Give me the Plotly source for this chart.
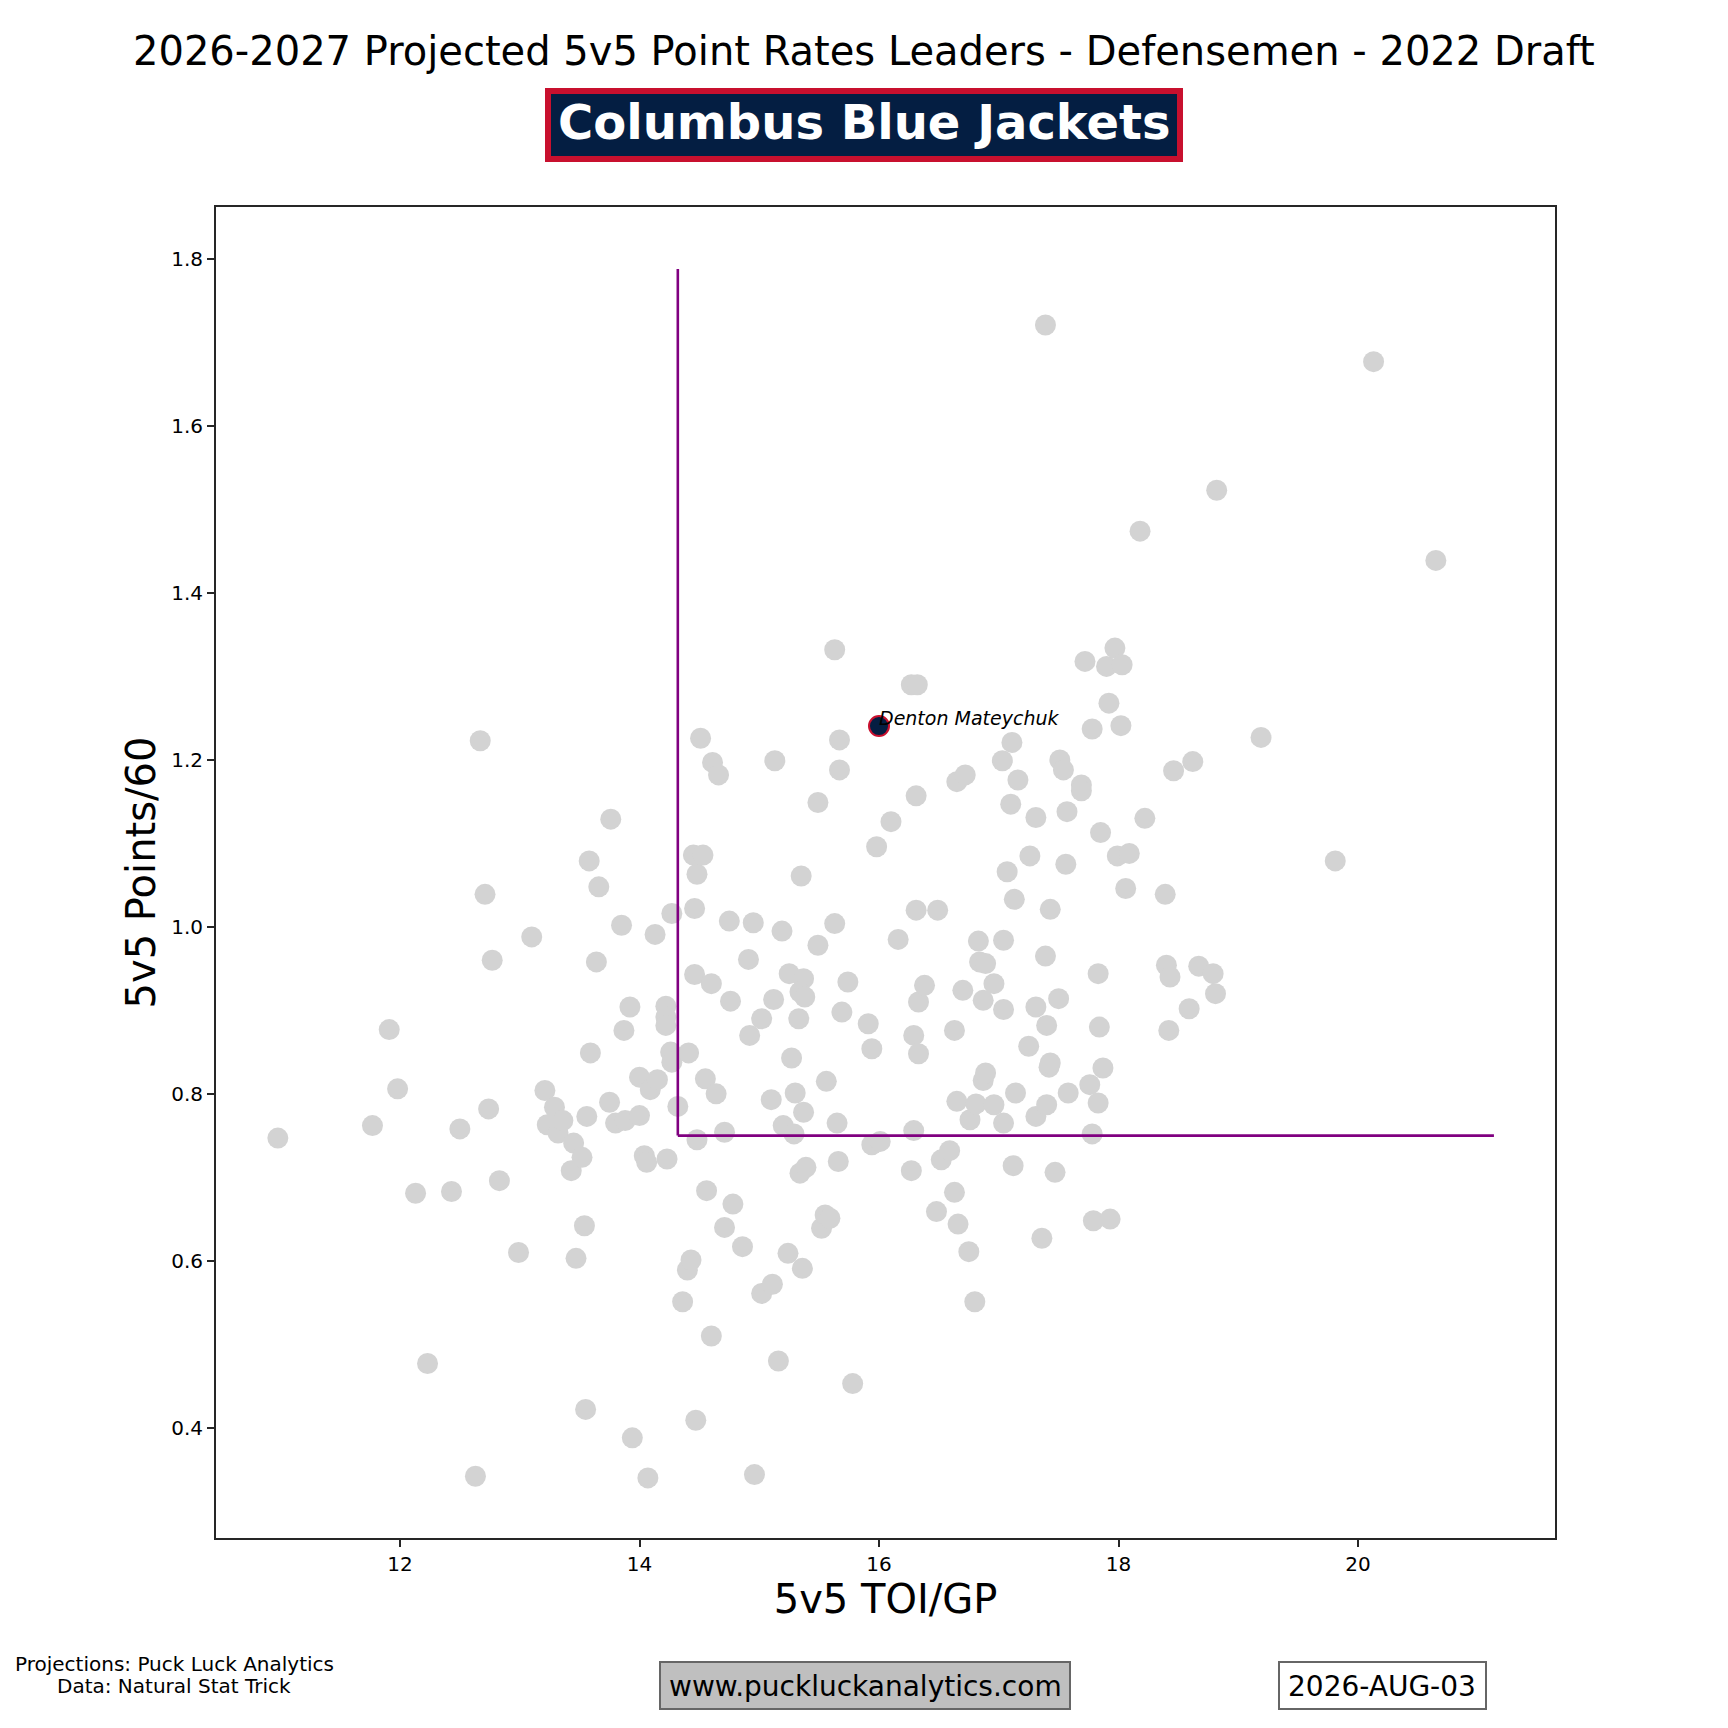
import plotly.graph_objects as go

# projected 5v5 TOI per game and points/60 for the defensemen pool
toi = [10.98, 11.77, 11.91, 11.98, 12.13, 12.23, 12.43, 12.50, 12.63, 12.67,
       12.71, 12.74, 12.77, 12.83, 12.99, 13.10, 13.21, 13.23, 13.29, 13.32,
       13.36, 13.43, 13.45, 13.47, 13.52, 13.54, 13.55, 13.56, 13.58, 13.59,
       13.64, 13.66, 13.75, 13.76, 13.80, 13.85, 13.87, 13.88, 13.92, 13.94,
       14.00, 14.00, 14.04, 14.06, 14.07, 14.09, 14.13, 14.15, 14.22, 14.22,
       14.22, 14.23, 14.26, 14.27, 14.27, 14.32, 14.36, 14.40, 14.41, 14.43,
       14.45, 14.46, 14.46, 14.47, 14.48, 14.48, 14.51, 14.53, 14.55, 14.56,
       14.60, 14.60, 14.61, 14.64, 14.66, 14.71, 14.71, 14.75, 14.76, 14.78,
       14.86, 14.91, 14.92, 14.95, 14.96, 15.02, 15.02, 15.10, 15.11, 15.12,
       15.13, 15.16, 15.19, 15.20, 15.24, 15.25, 15.27, 15.29, 15.30, 15.33,
       15.34, 15.35, 15.36, 15.37, 15.37, 15.34, 15.38, 15.39, 15.49, 15.49,
       15.52, 15.55, 15.56, 15.59, 15.63, 15.63, 15.65, 15.66, 15.67, 15.67,
       15.69, 15.74, 15.78, 15.91, 15.94, 15.94, 15.98, 16.01, 16.10, 16.16,
       16.27, 16.27, 16.29, 16.29, 16.31, 16.32, 16.31, 16.33, 16.33, 16.38,
       16.48, 16.49, 16.52, 16.59, 16.63, 16.63, 16.65, 16.65, 16.66, 16.70,
       16.72, 16.75, 16.76, 16.80, 16.81, 16.83, 16.84, 16.87, 16.87, 16.89,
       16.89, 16.96, 16.96, 17.03, 17.04, 17.04, 17.04, 17.07, 17.10, 17.11,
       17.12, 17.13, 17.14, 17.16, 17.25, 17.26, 17.31, 17.31, 17.31, 17.36,
       17.39, 17.39, 17.40, 17.40, 17.42, 17.43, 17.43, 17.47, 17.50, 17.51,
       17.54, 17.56, 17.57, 17.58, 17.69, 17.69, 17.72, 17.76, 17.78, 17.78,
       17.79, 17.83, 17.83, 17.84, 17.85, 17.87, 17.90, 17.92, 17.93, 17.97,
       17.99, 18.03, 18.02, 18.06, 18.09, 18.18, 18.22, 18.39, 18.40, 18.42,
       18.43, 18.46, 18.59, 18.62, 18.67, 18.79, 18.81, 18.82, 19.19, 19.81,
       20.13, 20.65]
pts60 = [0.747, 0.762, 0.877, 0.806, 0.681, 0.477, 0.683, 0.758, 0.342, 1.223,
         1.039, 0.782, 0.960, 0.696, 0.610, 0.988, 0.804, 0.763, 0.784, 0.753,
         0.768, 0.708, 0.741, 0.603, 0.724, 0.642, 0.422, 0.773, 1.079, 0.849,
         0.958, 1.048, 0.790, 1.129, 0.765, 1.002, 0.876, 0.768, 0.904, 0.388,
         0.774, 0.820, 0.726, 0.718, 0.340, 0.805, 0.991, 0.817, 0.905, 0.892,
         0.882, 0.722, 0.850, 0.838, 1.016, 0.785, 0.551, 0.589, 0.849, 0.601,
         1.086, 0.943, 1.022, 0.409, 1.063, 0.745, 1.226, 1.086, 0.818, 0.684,
         0.510, 0.932, 1.197, 0.800, 1.182, 0.640, 0.754, 1.007, 0.911, 0.668,
         0.617, 0.961, 0.870, 1.005, 0.344, 0.561, 0.890, 0.793, 0.572, 0.913,
         1.199, 0.480, 0.995, 0.762, 0.609, 0.944, 0.843, 0.752, 0.801, 0.890,
         0.705, 1.061, 0.591, 0.938, 0.778, 0.922, 0.916, 0.712, 0.978, 1.149,
         0.639, 0.655, 0.815, 0.651, 1.004, 1.332, 0.765, 0.719, 1.224, 1.188,
         0.898, 0.934, 0.453, 0.884, 0.739, 0.854, 1.096, 0.743, 1.126, 0.985,
         1.290, 0.708, 0.870, 0.756, 1.157, 1.290, 1.020, 0.910, 0.848, 0.930,
         0.659, 1.020, 0.721, 0.732, 0.682, 0.876, 1.174, 0.791, 0.644, 0.924,
         1.182, 0.611, 0.769, 0.551, 0.788, 0.983, 0.958, 0.912, 0.816, 0.825,
         0.956, 0.787, 0.932, 1.199, 0.984, 0.765, 0.901, 1.066, 1.147, 1.221,
         0.714, 1.033, 0.801, 1.176, 0.857, 1.085, 0.904, 1.131, 0.773, 0.627,
         0.965, 1.721, 0.882, 0.787, 0.832, 1.021, 0.837, 0.706, 0.914, 1.200,
         1.188, 1.075, 1.138, 0.801, 1.170, 1.163, 1.318, 0.811, 1.237, 0.752,
         0.648, 0.944, 0.789, 0.880, 1.113, 0.831, 1.312, 1.268, 0.650, 1.334,
         1.085, 1.314, 1.241, 1.046, 1.088, 1.474, 1.130, 1.039, 0.954, 0.876,
         0.940, 1.187, 0.902, 1.198, 0.953, 0.944, 0.920, 1.523, 1.227, 1.079,
         1.677, 1.439]

# team player
team_player = ["Denton Mateychuk"]
team_toi = [16.00]
team_pts60 = [1.2406]

# threshold lines (toi / pts cut-offs and their ends)
toi_cut = 14.32
pts_cut = 0.750
pts_top = 1.788
toi_end = 21.135

TEAM = "Columbus Blue Jackets"
TITLE = "2026-2027 Projected 5v5 Point Rates Leaders - Defensemen - 2022 Draft"

W = H = 1728
OFF = 8                               # page body margin around the plot div
L, R, T, B = 216, 1555, 207, 1538     # plot area, page px


def px(x):
    return (x - L) / (R - L)


def py(y):
    return (B - y) / (B - T)


FONT = "DejaVu Sans"

fig = go.Figure()
fig.add_trace(go.Scatter(x=toi, y=pts60, mode="markers",
                         marker=dict(color="#d3d3d3", size=21, line=dict(width=0)),
                         hoverinfo="skip", showlegend=False))
fig.add_trace(go.Scatter(x=[toi_cut, toi_cut], y=[pts_top, pts_cut], mode="lines",
                         line=dict(color="#800080", width=2.6), showlegend=False))
fig.add_trace(go.Scatter(x=[toi_cut, toi_end], y=[pts_cut, pts_cut], mode="lines",
                         line=dict(color="#800080", width=2.6), showlegend=False))
fig.add_trace(go.Scatter(x=team_toi, y=team_pts60, mode="markers",
                         marker=dict(color="#041E42", size=20,
                                     line=dict(color="#C8102E", width=2)),
                         showlegend=False))

for name, x, y in zip(team_player, team_toi, team_pts60):
    fig.add_annotation(x=x, y=y, text=name, showarrow=False, xanchor="left",
                       yanchor="bottom", yshift=-5, xshift=-2,
                       font=dict(family=FONT, size=19, color="black", style="italic"))

shapes = [
    # team banner
    dict(type="rect", xref="paper", yref="paper",
         x0=px(548), x1=px(1180), y0=py(159), y1=py(91),
         fillcolor="#041E42", line=dict(color="#C8102E", width=6)),
    # website box
    dict(type="rect", xref="paper", yref="paper",
         x0=px(660), x1=px(1070), y0=py(1709), y1=py(1662),
         fillcolor="#bfbfbf", line=dict(color="#666666", width=2)),
    # date box
    dict(type="rect", xref="paper", yref="paper",
         x0=px(1279), x1=px(1486), y0=py(1709), y1=py(1662),
         fillcolor="white", line=dict(color="#666666", width=2)),
]

notes = [
    (TITLE, 864, 51, 40, "black", "normal"),
    (TEAM, 864, 122, 48, "white", "bold"),
    ("Projections: Puck Luck Analytics", 174, 1664, 20, "black", "normal"),
    ("Data: Natural Stat Trick", 174, 1686, 20, "black", "normal"),
    ("www.puckluckanalytics.com", 865, 1686, 28, "black", "normal"),
    ("2026-AUG-03", 1382, 1686, 28, "black", "normal"),
]
for text, x, y, size, color, weight in notes:
    fig.add_annotation(xref="paper", yref="paper", x=px(x), y=py(y), text=text,
                       showarrow=False, xanchor="center", yanchor="middle",
                       font=dict(family=FONT, size=size, color=color, weight=weight))

axis_style = dict(showline=True, linecolor="#262626", linewidth=2, mirror=True,
                  ticks="outside", ticklen=7, tickwidth=2, tickcolor="#262626",
                  showgrid=False, zeroline=False, automargin=False,
                  tickfont=dict(family=FONT, size=20, color="black"))

fig.update_layout(
    width=W, height=H,
    margin=dict(l=L - OFF, r=W - R + OFF, t=T - OFF, b=H - B + OFF),
    paper_bgcolor="white", plot_bgcolor="white",
    shapes=shapes,
    xaxis=dict(range=[10.4635, 21.645], tickvals=[12, 14, 16, 18, 20],
               title=dict(text="5v5 TOI/GP", standoff=0,
                          font=dict(family=FONT, size=40, color="black")),
               **axis_style),
    yaxis=dict(range=[0.268, 1.8623], tickvals=[0.4, 0.6, 0.8, 1.0, 1.2, 1.4, 1.6, 1.8],
               tickformat=".1f",
               title=dict(text="5v5 Points/60", standoff=3,
                          font=dict(family=FONT, size=40, color="black")),
               **axis_style),
)

fig.write_html("out.html")
